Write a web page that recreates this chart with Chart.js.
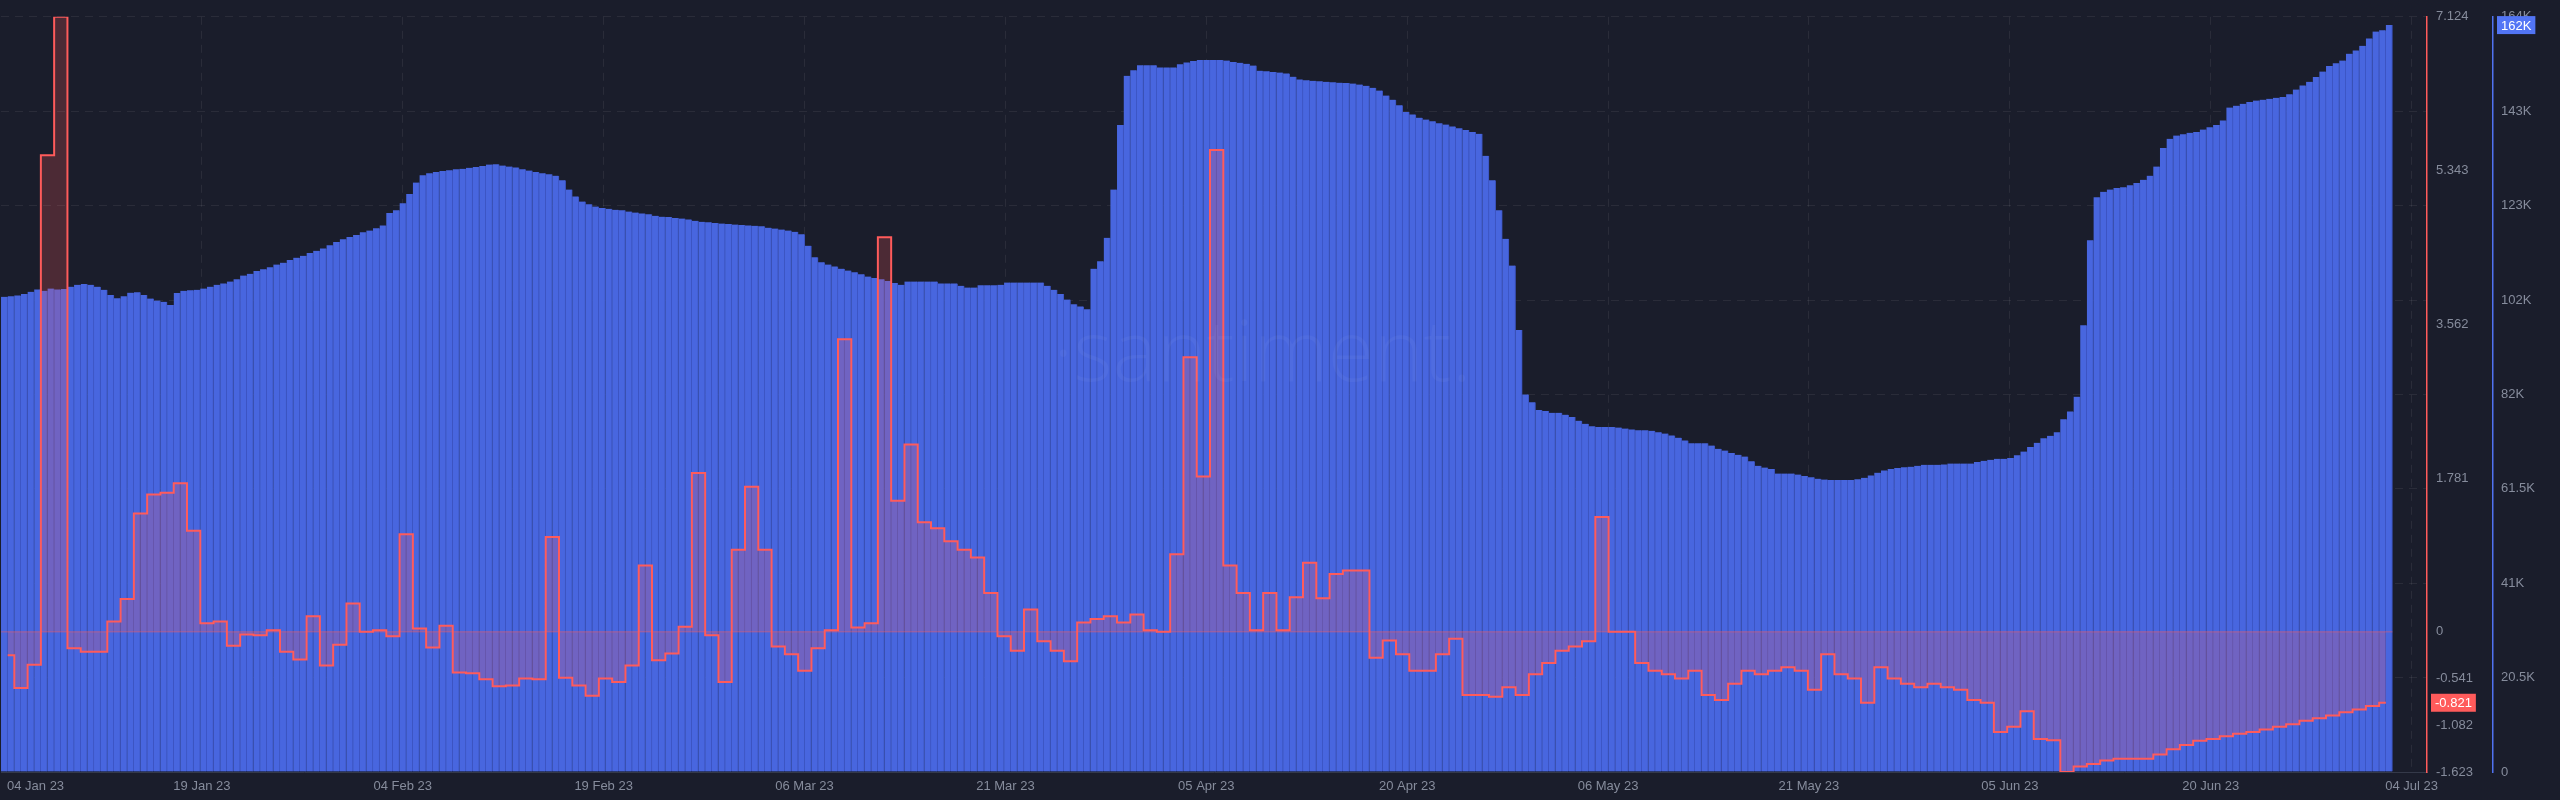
<!DOCTYPE html>
<html>
<head>
<meta charset="utf-8">
<script src="https://cdn.jsdelivr.net/npm/chart.js@4.4.0/dist/chart.umd.min.js"></script>
<style>
  html, body { margin: 0; padding: 0; background: #1a1d2b; }
  #wrap { width: 2560px; height: 800px; position: relative; }
</style>
</head>
<body>
<div id="wrap"><canvas id="chart"></canvas></div>
<script>
// x axis labels (evenly spaced along the axis)
const xTickLabels = ["04 Jan 23", "19 Jan 23", "04 Feb 23", "19 Feb 23", "06 Mar 23", "21 Mar 23",
  "05 Apr 23", "20 Apr 23", "06 May 23", "21 May 23", "05 Jun 23", "20 Jun 23", "04 Jul 23"];

// right axes
const blueTickValues = [0, 20.5, 41, 61.5, 82, 102.5, 123, 143.5, 164];
const blueTickLabels = ["0", "20.5K", "41K", "61.5K", "82K", "102K", "123K", "143K", "164K"];
const redTickValues = [-1.623, -1.082, -0.541, 0, 1.781, 3.562, 5.343, 7.124];

// blue bars, two per day (thousands)
const blueK = [
  103.2, 103.3, 103.5, 103.8, 104.3, 104.8, 104.5, 105.0, 104.8, 104.9,
  105.4, 105.8, 106.0, 105.8, 105.4, 104.7, 103.6, 102.9, 103.3, 104.1,
  104.2, 103.6, 102.8, 102.4, 102.1, 101.4, 104.0, 104.5, 104.6, 104.7,
  105.0, 105.4, 105.8, 106.1, 106.5, 107.0, 107.8, 108.2, 108.8, 109.2,
  109.6, 110.2, 110.6, 111.2, 111.7, 112.1, 112.7, 113.2, 113.7, 114.4,
  115.1, 115.7, 116.2, 116.6, 117.2, 117.6, 118.1, 118.7, 121.4, 122.0,
  123.5, 125.5, 128.0, 129.6, 130.0, 130.3, 130.5, 130.7, 130.9, 131.0,
  131.2, 131.4, 131.6, 131.9, 132.0, 131.7, 131.5, 131.3, 130.9, 130.6,
  130.3, 130.0, 129.8, 129.5, 128.5, 126.5, 125.0, 123.9, 123.3, 122.8,
  122.5, 122.3, 122.1, 122.0, 121.7, 121.5, 121.3, 121.1, 120.8, 120.6,
  120.5, 120.3, 120.2, 120.0, 119.7, 119.5, 119.4, 119.2, 119.1, 119.0,
  118.9, 118.8, 118.7, 118.6, 118.5, 118.2, 118.0, 117.8, 117.6, 117.3,
  116.8, 114.3, 111.8, 110.7, 110.2, 109.8, 109.3, 108.9, 108.5, 108.1,
  107.6, 107.3, 107.0, 106.6, 106.2, 105.8, 106.5, 106.5, 106.5, 106.5,
  106.5, 106.1, 106.1, 106.1, 105.6, 105.2, 105.2, 105.7, 105.7, 105.7,
  105.8, 106.3, 106.3, 106.3, 106.3, 106.3, 106.3, 105.6, 104.7, 103.8,
  102.6, 101.6, 101.1, 100.5, 109.3, 110.9, 116.0, 126.5, 140.5, 151.2,
  152.4, 153.5, 153.5, 153.5, 153.0, 153.0, 153.0, 153.7, 154.1, 154.4,
  154.6, 154.6, 154.6, 154.6, 154.5, 154.2, 154.0, 153.8, 153.4, 152.3,
  152.2, 152.0, 151.9, 151.7, 151.0, 150.4, 150.2, 150.1, 150.0, 149.9,
  149.8, 149.7, 149.6, 149.5, 149.3, 149.0, 148.6, 148.0, 146.9, 146.0,
  144.8, 143.3, 142.8, 142.1, 141.7, 141.3, 140.9, 140.6, 140.2, 139.8,
  139.4, 139.0, 138.6, 133.8, 128.5, 122.0, 115.8, 110.0, 96.0, 82.0,
  80.3, 78.6, 78.4, 78.0, 78.0, 77.6, 77.1, 76.3, 75.6, 75.1,
  74.9, 74.9, 74.9, 74.8, 74.6, 74.4, 74.2, 74.2, 74.1, 73.8,
  73.5, 73.1, 72.6, 72.0, 71.4, 71.4, 71.4, 70.9, 70.2, 69.8,
  69.3, 68.9, 68.5, 67.5, 66.5, 66.1, 65.8, 64.8, 64.8, 64.8,
  64.6, 64.3, 64.0, 63.7, 63.5, 63.4, 63.4, 63.4, 63.4, 63.6,
  63.9, 64.4, 65.0, 65.5, 65.8, 66.0, 66.2, 66.3, 66.5, 66.7,
  66.7, 66.7, 66.8, 67.0, 67.0, 67.0, 67.0, 67.3, 67.6, 67.8,
  68.0, 68.0, 68.2, 68.8, 69.6, 70.6, 71.5, 72.5, 73.0, 73.8,
  76.6, 78.3, 81.5, 97.0, 115.5, 124.8, 126.0, 126.5, 126.8, 127.0,
  127.4, 127.9, 128.6, 129.5, 131.5, 135.5, 137.5, 138.2, 138.5, 138.8,
  139.0, 139.5, 140.0, 140.5, 141.5, 144.3, 144.7, 145.1, 145.5, 145.8,
  146.0, 146.2, 146.4, 146.6, 147.2, 148.2, 149.1, 149.9, 150.9, 152.1,
  153.3, 153.9, 154.5, 156.0, 156.7, 157.7, 159.3, 160.8, 161.1, 162.2
];

// red line, one value per day
const redValues = [
  -0.27, -0.65, -0.38, 5.52, 7.124, -0.19, -0.23, -0.23, 0.12, 0.38,
  1.37, 1.59, 1.61, 1.72, 1.17, 0.10, 0.12, -0.16, -0.03, -0.04,
  0.02, -0.23, -0.32, 0.18, -0.39, -0.15, 0.33, 0.0, 0.02, -0.05,
  1.13, 0.04, -0.18, 0.07, -0.47, -0.48, -0.55, -0.63, -0.62, -0.54,
  -0.55, 1.10, -0.53, -0.62, -0.74, -0.54, -0.58, -0.39, 0.77, -0.33,
  -0.25, 0.06, 1.84, -0.04, -0.58, 0.95, 1.68, 0.95, -0.17, -0.26,
  -0.45, -0.19, 0.02, 3.39, 0.05, 0.10, 4.57, 1.52, 2.17, 1.27,
  1.20, 1.05, 0.95, 0.86, 0.45, -0.05, -0.22, 0.26, -0.11, -0.22,
  -0.34, 0.11, 0.15, 0.18, 0.11, 0.20, 0.02, 0.0, 0.90, 3.18,
  1.80, 5.58, 0.77, 0.45, 0.02, 0.45, 0.02, 0.40, 0.80, 0.39,
  0.67, 0.71, 0.71, -0.30, -0.10, -0.26, -0.45, -0.45, -0.26, -0.08,
  -0.73, -0.73, -0.75, -0.64, -0.73, -0.49, -0.36, -0.22, -0.17, -0.11,
  1.33, 0.0, 0.0, -0.36, -0.45, -0.49, -0.54, -0.45, -0.73, -0.79,
  -0.60, -0.45, -0.49, -0.45, -0.41, -0.45, -0.67, -0.26, -0.49, -0.54,
  -0.82, -0.41, -0.54, -0.60, -0.64, -0.60, -0.64, -0.67, -0.79, -0.82,
  -1.16, -1.10, -0.92, -1.24, -1.255, -1.623, -1.56, -1.53, -1.49, -1.47,
  -1.47, -1.47, -1.42, -1.36, -1.31, -1.26, -1.24, -1.21, -1.18, -1.16,
  -1.13, -1.10, -1.07, -1.03, -1.00, -0.97, -0.93, -0.90, -0.86, -0.821
];

// look
const TEXT = "#868c9c";
const GRID = "rgba(255, 255, 255, 0.07)";
const RED = "#ff5b5b";
const BLUE = "#5072f0";
const FONT = { family: "'Liberation Sans', Arial, sans-serif", size: 13 };

const X_MAX = 182.6;          // days visible on the x axis
const X_TICK_STEP = 15.12;    // days between x labels
const FIRST_TICK_INSET = 2.6; // keep the first label inside the plot

const blueData = blueK.map((v, i) => ({ x: (i + 0.5) / 2, y: v }));
const redData = redValues.map((v, d) => ({ x: d + 0.5, y: v }));
// baseline of the red series, spanning the same days
const redBase = [{ x: 0, y: 0 }, { x: redValues.length, y: 0 }];

// watermark and last value badges
const decorations = {
  id: "decorations",
  afterDatasetsDraw(chart) {
    const { ctx, chartArea } = chart;
    ctx.save();
    ctx.fillStyle = "rgba(255, 255, 255, 0.04)";
    ctx.font = "300 84px 'Open Sans', sans-serif";
    ctx.textAlign = "center";
    ctx.textBaseline = "middle";
    ctx.fillText("·santiment.", chartArea.left + chartArea.width * 0.52, chartArea.top + chartArea.height * 0.45);
    ctx.restore();
  },
  afterDraw(chart) {
    const { ctx, scales } = chart;
    const lastBlue = blueK[blueK.length - 1];
    const lastRed = redValues[redValues.length - 1];
    drawBadge(ctx, scales.yBlue, lastBlue, Math.round(lastBlue) + "K", "#5275f5");
    drawBadge(ctx, scales.yRed, lastRed, String(lastRed), RED);
  }
};

function drawBadge(ctx, scale, value, text, color) {
  const y = scale.getPixelForValue(value);
  ctx.save();
  ctx.font = "13px 'Liberation Sans', Arial, sans-serif";
  const w = ctx.measureText(text).width + 8;
  const h = 18;
  const x = scale.left + 4;
  ctx.fillStyle = color;
  ctx.fillRect(x, y - h / 2, w, h);
  ctx.fillStyle = "#ffffff";
  ctx.textBaseline = "middle";
  ctx.textAlign = "left";
  ctx.fillText(text, x + 4, y + 1);
  ctx.restore();
}

new Chart(document.getElementById("chart"), {
  type: "bar",
  data: {
    datasets: [
      {
        type: "line",
        data: redBase,
        yAxisID: "yRed",
        borderColor: "rgba(255, 91, 91, 0.5)",
        borderWidth: 1,
        pointRadius: 0,
        fill: false,
        order: 0
      },
      {
        type: "line",
        data: redData,
        yAxisID: "yRed",
        stepped: "middle",
        borderColor: RED,
        borderWidth: 2,
        pointRadius: 0,
        fill: "origin",
        backgroundColor: "rgba(255, 91, 91, 0.22)",
        order: 0
      },
      {
        type: "bar",
        data: blueData,
        yAxisID: "yBlue",
        backgroundColor: "#4866df",
        borderColor: "#3a51bb",
        borderWidth: { top: 0, right: 1, bottom: 0, left: 0 },
        barPercentage: 1,
        categoryPercentage: 1,
        order: 1
      }
    ]
  },
  options: {
    responsive: true,
    maintainAspectRatio: false,
    animation: false,
    devicePixelRatio: 1,
    events: [],
    layout: { padding: { top: 1, left: 0, right: 0, bottom: 0 } },
    plugins: { legend: { display: false }, tooltip: { enabled: false } },
    scales: {
      x: {
        type: "linear",
        min: 0,
        max: X_MAX,
        offset: false,
        afterBuildTicks: (s) => {
          s.ticks = xTickLabels.map((_, i) => ({ value: Math.max(i * X_TICK_STEP, FIRST_TICK_INSET) }));
        },
        afterFit: (s) => { s.height = 28; },
        ticks: {
          color: TEXT, font: FONT, padding: 7, maxRotation: 0, autoSkip: false,
          callback: (v, i) => xTickLabels[i]
        },
        grid: {
          offset: false,
          drawTicks: false,
          color: (c) => (c.index === 0 ? "transparent" : GRID)
        },
        border: { display: true, color: "#343949", dash: [8, 6] }
      },
      yRed: {
        type: "linear",
        position: "right",
        weight: 0,
        min: -1.623,
        max: 7.124,
        afterBuildTicks: (s) => { s.ticks = redTickValues.map((v) => ({ value: v })); },
        afterFit: (s) => { s.width = 66; },
        ticks: { color: TEXT, font: FONT, padding: 9, callback: (v) => String(v) },
        grid: { drawTicks: false, display: false },
        border: { display: true, color: RED, width: 1.5 }
      },
      yBlue: {
        type: "linear",
        position: "right",
        weight: 1,
        min: 0,
        max: 164,
        afterBuildTicks: (s) => { s.ticks = blueTickValues.map((v) => ({ value: v })); },
        afterFit: (s) => { s.width = 67; },
        ticks: { color: TEXT, font: FONT, padding: 8, callback: (v, i) => blueTickLabels[i] },
        grid: { drawTicks: false, color: GRID },
        border: { display: true, color: BLUE, width: 1.5, dash: [8, 6] }
      }
    }
  },
  plugins: [decorations]
});
</script>
</body>
</html>
